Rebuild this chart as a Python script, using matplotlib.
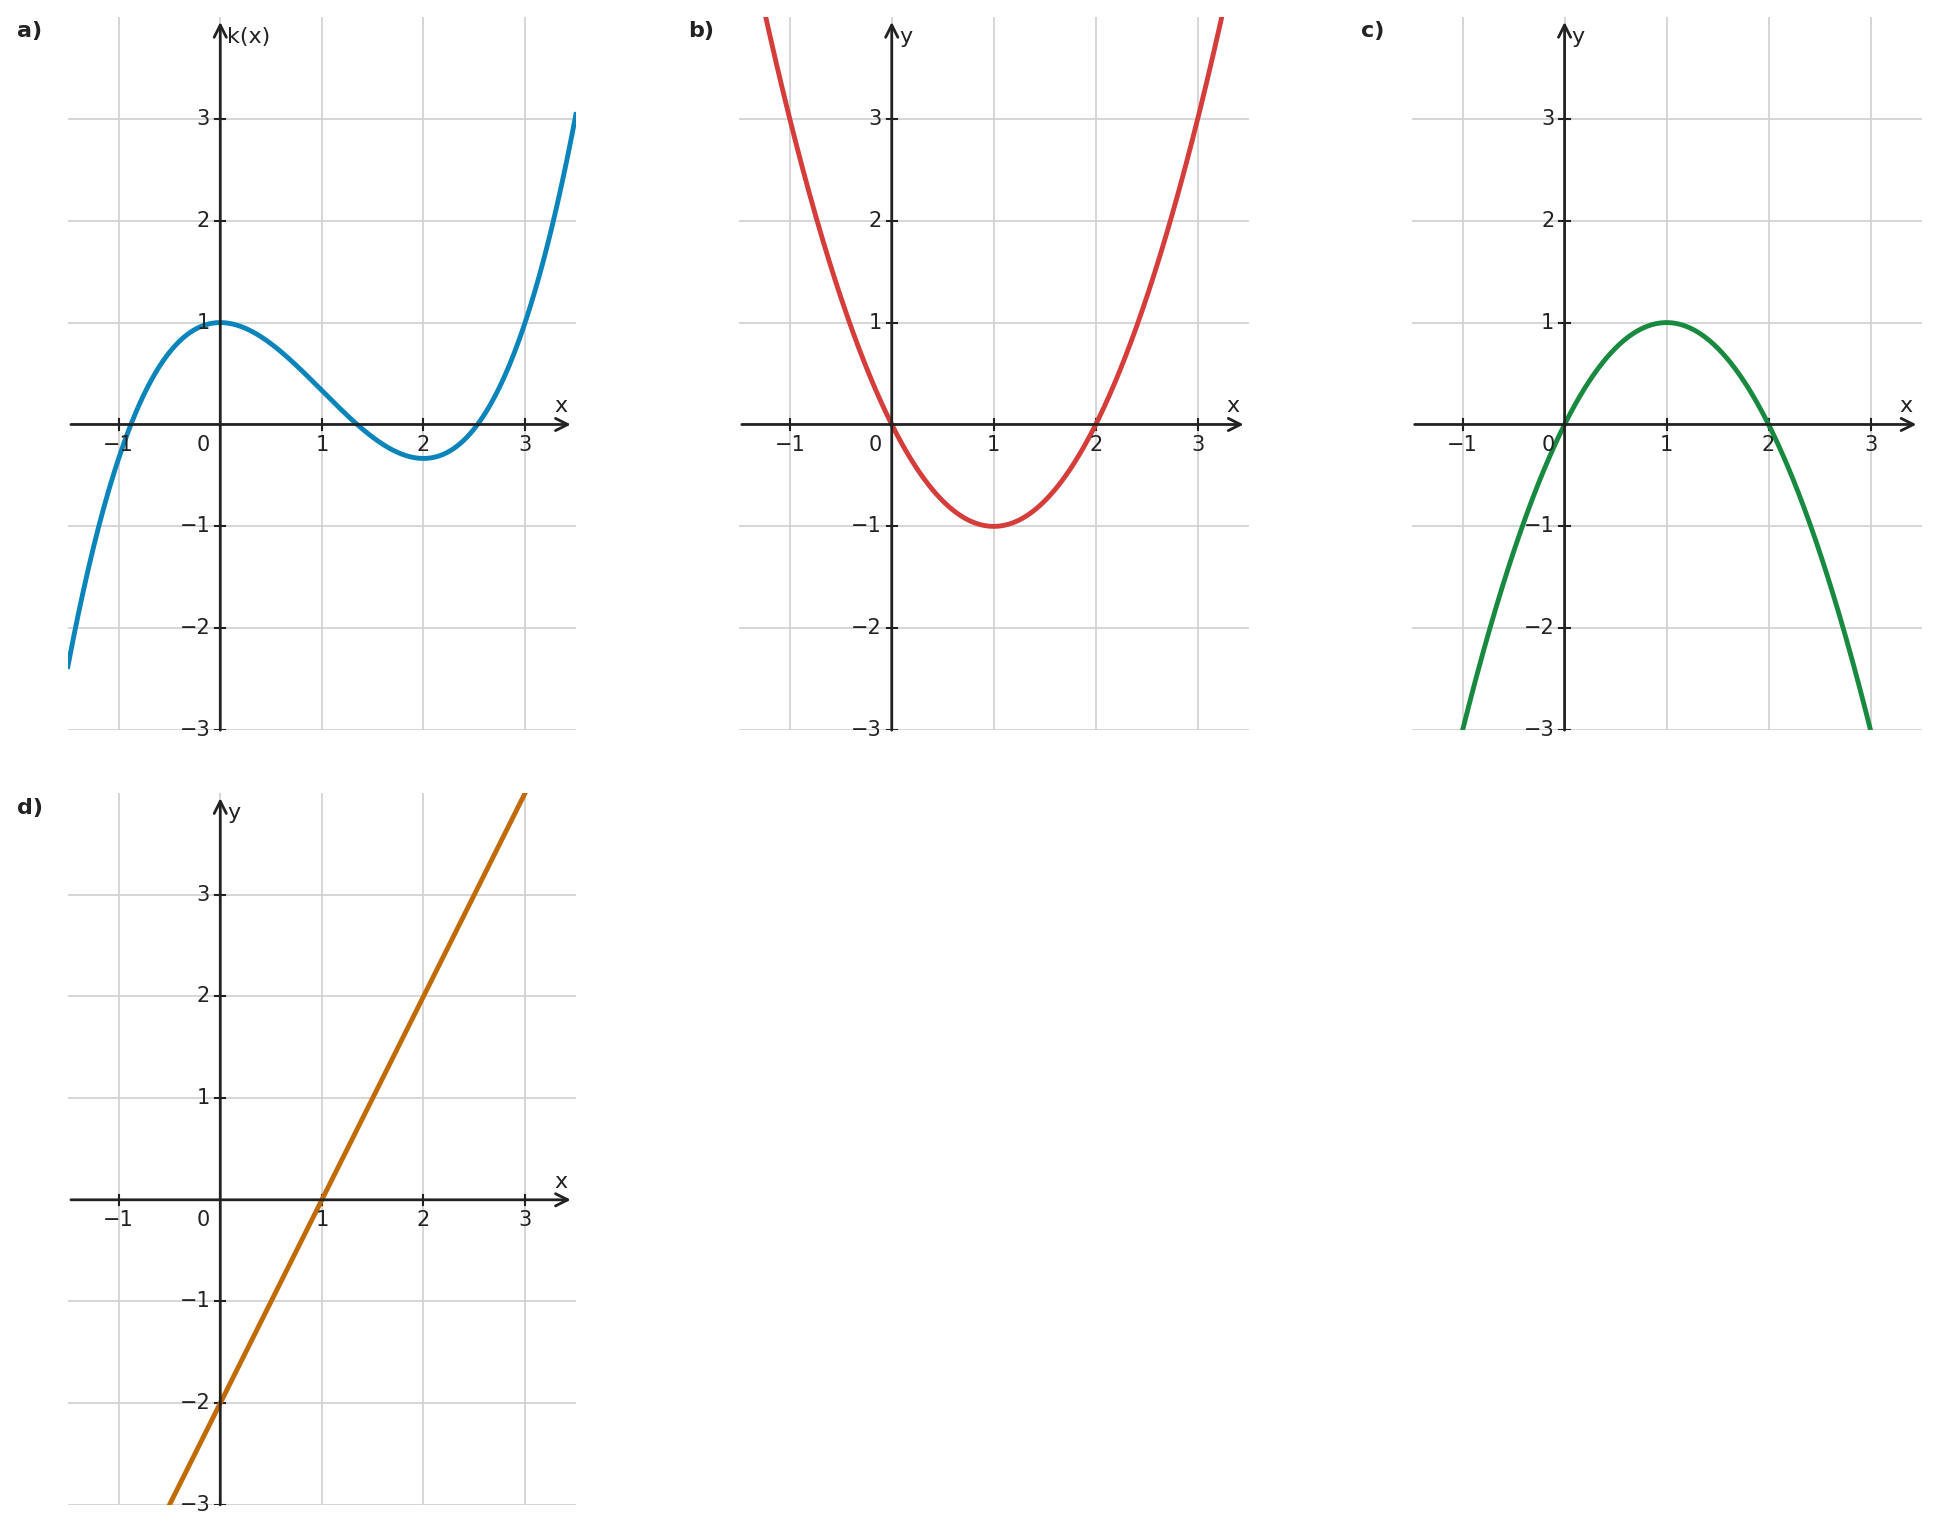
import numpy as np
import matplotlib
matplotlib.use("Agg")
import matplotlib.pyplot as plt

panel_labels = ["a)", "b)", "c)", "d)"]
y_names = ["k(x)", "y", "y", "y"]
# polynomial coefficients (highest power first)
coeffs = [[1/3, -1, 0, 1], [1, -2, 0], [-1, 2, 0], [2, -2]]
colors = ["#0a84ba", "#d43d3a", "#188a40", "#c06a08"]
xticks = [-1, 1, 2, 3]
yticks = [-3, -2, -1, 1, 2, 3]
xlim = (-1.5, 3.5)
ylim = (-3, 4)

fig = plt.figure(figsize=(19.39, 15.34), dpi=100)
boxes = [(0.035, 0.524, 0.262, 0.465), (0.381, 0.524, 0.263, 0.465),
         (0.728, 0.524, 0.263, 0.465), (0.035, 0.019, 0.262, 0.464)]
fs = 15
for i, (l, b, w, h) in enumerate(boxes):
    ax = fig.add_axes([l, b, w, h])
    ax.set_xlim(*xlim); ax.set_ylim(*ylim)
    for s in ["top", "right", "left", "bottom"]:
        ax.spines[s].set_visible(False)
    ax.set_xticks([]); ax.set_yticks([])
    for v in [-1, 0, 1, 2, 3]:
        ax.axvline(v, color="#d0d0d0", lw=1.2, zorder=0)
    for v in [-3, -2, -1, 1, 2, 3]:
        ax.axhline(v, color="#d0d0d0", lw=1.2, zorder=0)
    ax.annotate("", xy=(3.45, 0), xytext=(-1.47, 0),
                arrowprops=dict(arrowstyle="->", lw=2, color="#222222", mutation_scale=22, shrinkA=0, shrinkB=0),
                annotation_clip=False)
    ax.annotate("", xy=(0, 3.95), xytext=(0, -3),
                arrowprops=dict(arrowstyle="->", lw=2, color="#222222", mutation_scale=22, shrinkA=0, shrinkB=0),
                annotation_clip=False)
    for v in xticks:
        ax.plot([v, v], [-0.05, 0.05], color="#222222", lw=1.5)
        ax.text(v, -0.1, "\u2212%d" % -v if v < 0 else str(v), ha="center", va="top", fontsize=fs, color="#222222")
    for v in yticks:
        ax.plot([-0.05, 0.05], [v, v], color="#222222", lw=1.5)
        ax.text(-0.1, v, "\u2212%d" % -v if v < 0 else str(v), ha="right", va="center", fontsize=fs, color="#222222")
    ax.text(-0.1, -0.1, "0", ha="right", va="top", fontsize=fs, color="#222222")
    ax.text(3.35, 0.08, "x", ha="center", va="bottom", fontsize=16, color="#222222")
    ax.text(0.07, 3.9, y_names[i], ha="left", va="top", fontsize=16, color="#222222")
    x = np.linspace(xlim[0], xlim[1], 600)
    ax.plot(x, np.polyval(coeffs[i], x), color=colors[i], lw=3.5)
    ax.set_facecolor("none")
    fig.text(l - 0.026, b + h - 0.003, panel_labels[i], fontsize=16, fontweight="bold", va="top", color="#222222")

fig.savefig("out.png", dpi=100)
